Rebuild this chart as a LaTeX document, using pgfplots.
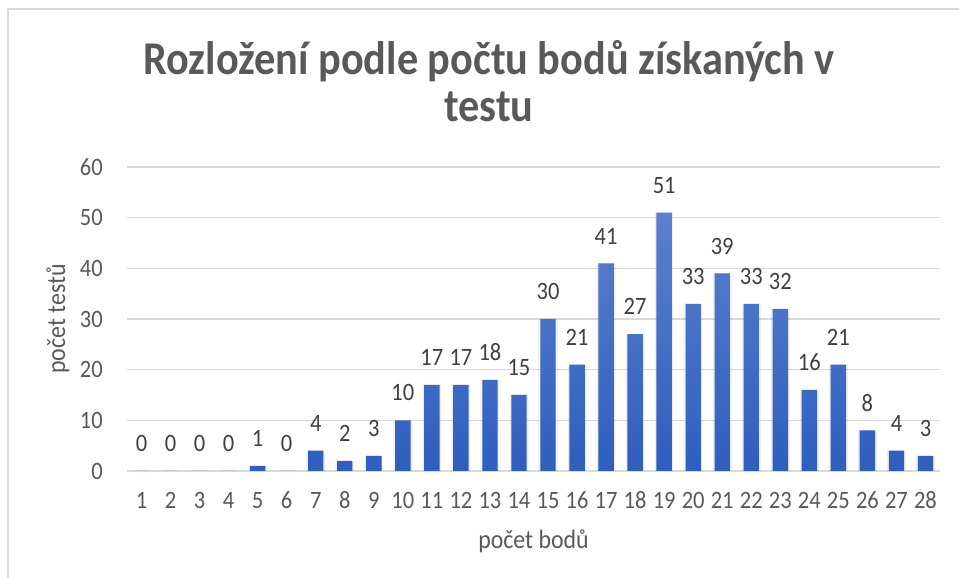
\documentclass[border=0pt]{standalone}
\usepackage{fontspec}
\setmainfont{Carlito}[FakeStretch=0.9]
\usepackage{pgfplots}
\pgfplotsset{compat=1.18}
\definecolor{gridc}{HTML}{D9D9D9}
\definecolor{txt}{HTML}{595959}
\definecolor{lbl}{HTML}{404040}
\definecolor{bartop}{HTML}{5B80CC}
\definecolor{barbot}{HTML}{2E5EBE}
\begin{document}
\begin{tikzpicture}
\useasboundingbox (0,0) rectangle (959pt,578pt);
\fill[white] (0,0) rectangle (959pt,578pt);
\draw[gridc, line width=2pt] (8pt,0pt) -- (8pt,569pt) -- (959pt,569pt);
\node[anchor=base, text=txt, font=\fontsize{47}{55}\selectfont\bfseries, inner sep=0] at (489pt,503pt) {Rozložení podle počtu bodů získaných v};
\node[anchor=base, text=txt, font=\fontsize{47}{55}\selectfont\bfseries, inner sep=0] at (489pt,456pt) {testu};
\begin{axis}[
  at={(127pt,107pt)}, anchor=south west,
  scale only axis, width=813pt, height=304pt,
  xmin=0.5, xmax=28.5, ymin=0, ymax=60,
  ytick={0,10,...,60},
  xtick={1,...,28},
  major tick length=0pt,
  axis lines*=left,
  y axis line style={draw=none},
  x axis line style={draw=gridc, line width=1.4pt, -},
  ymajorgrids, grid style={gridc, line width=1.3pt},
  /pgf/number format/assume math mode=true,
  tick label style={font=\fontsize{25}{30}\selectfont, text=txt, inner sep=0pt},
  yticklabel style={anchor=east, xshift=-24pt},
  xticklabel style={anchor=base, yshift=-38pt},
  xlabel={počet bodů}, ylabel={počet testů},
  every axis x label/.style={at={(axis description cs:0.5,-0.230)}, anchor=center, font=\fontsize{26.5}{30}\selectfont, text=txt},
  every axis y label/.style={at={(axis description cs:-0.0849,0.5)}, anchor=center, rotate=90, font=\fontsize{26.5}{30}\selectfont, text=txt},
  ybar, bar shift=0pt,
  clip=false,
]
\addplot[draw=none, fill=black, fill opacity=0.07, bar width=0.64] coordinates {
(1,0) (2,0) (3,0) (4,0) (5,1) (6,0) (7,4) (8,2) (9,3) (10,10)
(11,17) (12,17) (13,18) (14,15) (15,30) (16,21) (17,41) (18,27) (19,51) (20,33)
(21,39) (22,33) (23,32) (24,16) (25,21) (26,8) (27,4) (28,3)};
\addplot[draw=none, top color=bartop, bottom color=barbot, bar width=0.53,
  nodes near coords,
  every node near coord/.append style={font=\fontsize{25}{30}\selectfont, text=lbl, inner sep=0pt, yshift=19pt}]
coordinates {
(1,0) (2,0) (3,0) (4,0) (5,1) (6,0) (7,4) (8,2) (9,3) (10,10)
(11,17) (12,17) (13,18) (14,15) (15,30) (16,21) (17,41) (18,27) (19,51) (20,33)
(21,39) (22,33) (23,32) (24,16) (25,21) (26,8) (27,4) (28,3)};
\end{axis}
\end{tikzpicture}
\end{document}
